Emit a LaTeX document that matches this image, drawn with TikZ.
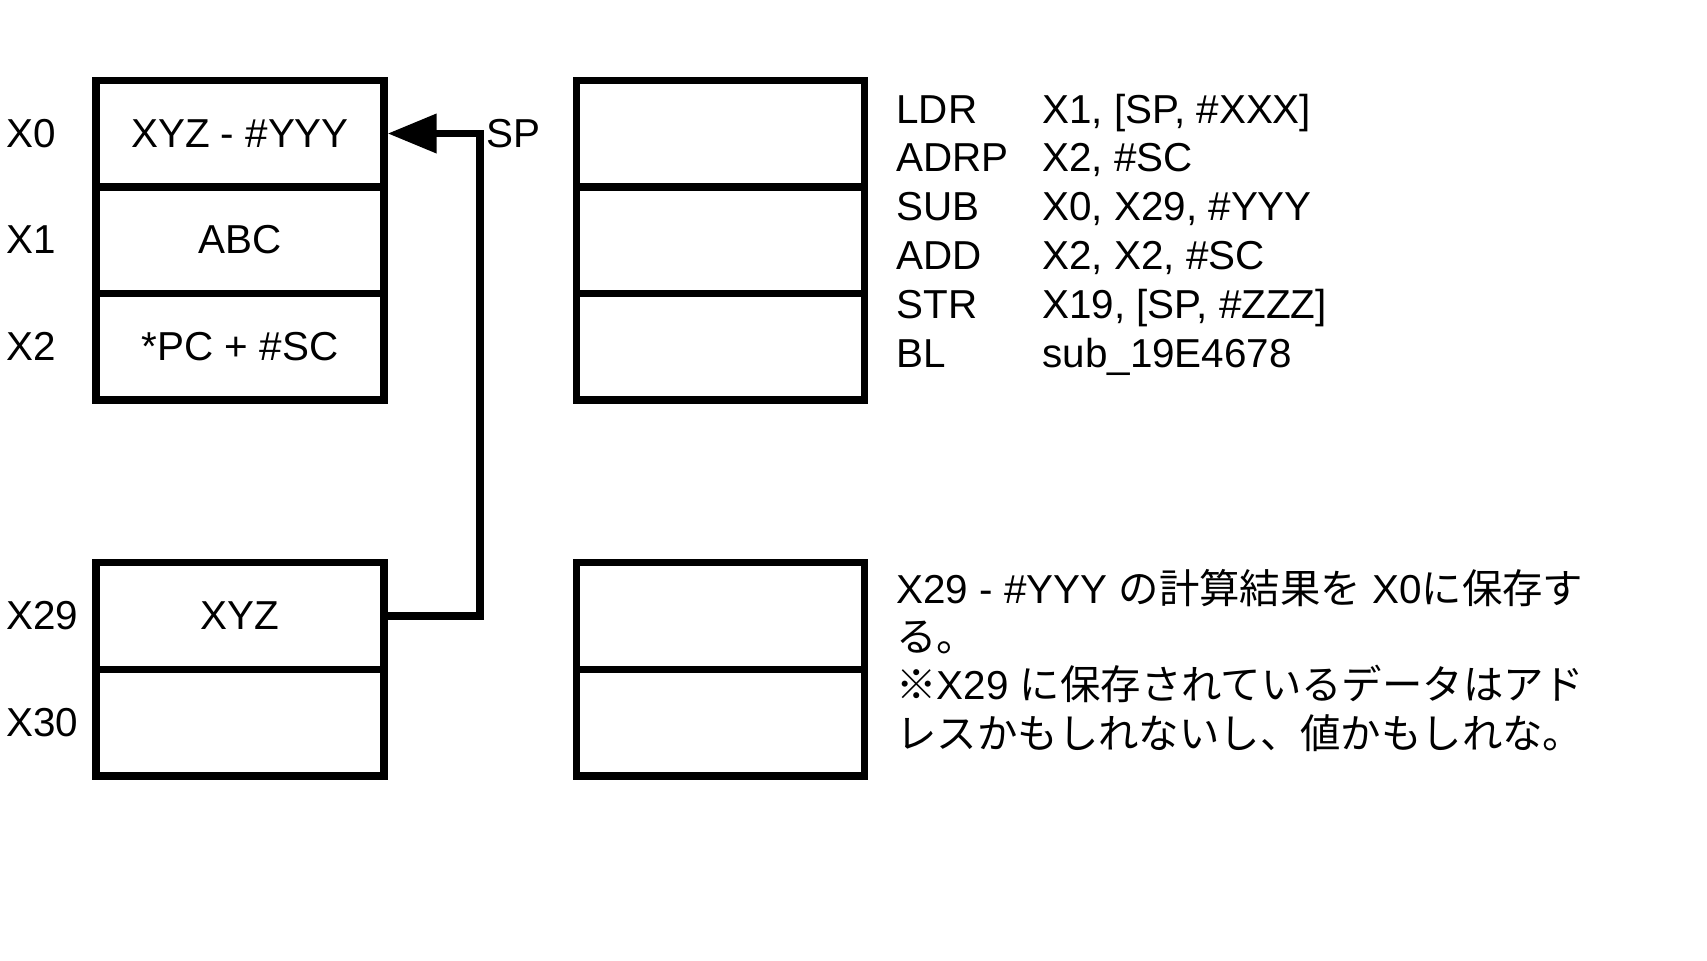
\documentclass[tikz,border=0pt]{standalone}
\usepackage{fontspec}
\setmainfont{Liberation Sans}
\newfontfamily\jpfont{Noto Sans CJK JP}
\usetikzlibrary{arrows.meta}
\tikzset{
  cell/.style={draw, line width=3.7pt, minimum width=144pt, minimum height=53.3pt, inner sep=0pt},
  reg/.style={anchor=west, inner sep=0pt},
  asm/.style={anchor=base west, inner sep=0pt},
  ptr/.style={line width=3.7pt, -{Triangle[length=24.5pt,width=19pt]}},
}
\begin{document}
\begin{tikzpicture}[x=0.5pt,y=-0.5pt,font=\fontsize{20.2}{24}\selectfont]
  \useasboundingbox (0,0) rectangle (1707,960);
  % registers
  \node[cell] (a0) at (240,133.5) {XYZ - \#YYY};
  \node[cell] (a1) at (240,240) {ABC};
  \node[cell] (a2) at (240,346.5) {*PC + \#SC};
  \node[cell] (a29) at (240,616) {XYZ};
  \node[cell] (a30) at (240,722.5) {};
  \foreach \n/\y in {0/133.5,1/240,2/346.5,29/616,30/722.5} {
    \node[reg] (r\n) at (6,\y) {X\n};
    \node[cell] (b\n) at (720.5,\y) {};
  }
  % stack pointer
  \node[reg] (sp) at (486,133.5) {SP};
  \coordinate (bend) at (480,133.5);
  \draw[ptr] (a29.east) -| (bend) -- (a0.east);
  % code
  \foreach \m/\o [count=\i] in {LDR/{X1, [SP, \#XXX]}, ADRP/{X2, \#SC}, SUB/{X0, X29, \#YYY},
      ADD/{X2, X2, \#SC}, STR/{X19, [SP, \#ZZZ]}, BL/{sub\_19E4678}} {
    \node[asm] (m\i) at (896,{123+48.8*(\i-1)}) {\m};
    \node[asm] (o\i) at (1042,{123+48.8*(\i-1)}) {\o};
  }
  \node[asm, align=left, font=\fontsize{20.2}{24.1}\selectfont] (memo) at (896,748)
    {X29 - \#YYY {\jpfont の計算結果を} X0{\jpfont に保存す}\\
     {\jpfont る。}\\
     {\jpfont ※}X29 {\jpfont に保存されているデータはアド}\\
     {\jpfont レスかもしれないし、値かもしれな。}};
\end{tikzpicture}
\end{document}
